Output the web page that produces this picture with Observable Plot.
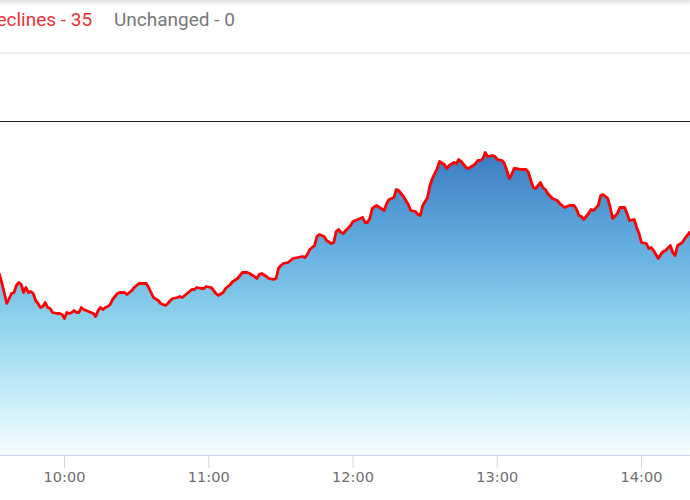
<!DOCTYPE html>
<html>
<head>
<meta charset="utf-8">
<script src="https://cdn.jsdelivr.net/npm/d3@7"></script>
<script src="https://cdn.jsdelivr.net/npm/@observablehq/plot@0.6"></script>
<style>
  html, body { margin: 0; padding: 0; background: #fff; width: 690px; height: 500px; overflow: hidden; }
  #header { position: relative; height: 52px; border-bottom: 2px solid #ececec; background: linear-gradient(#e4e4e4 0px, #ffffff 6px); overflow: hidden; font-family: Roboto, sans-serif; font-size: 19px; }
  #header span { position: absolute; top: 8px; white-space: nowrap; }
  #dec { color: #e53238; left: -16px; }
  #unc { color: #777777; left: 114px; }
  #chart svg { display: block; }
</style>
</head>
<body>
<div id="header"><span id="dec"></span><span id="unc"></span></div>
<div id="chart"></div>
<script>
const headerLabels = ["Declines - 35", "Unchanged - 0"];
const prevClose = 22100;
const tickLabels = ["10:00", "11:00", "12:00", "13:00", "14:00"];
const times = [
"09:33","09:34","09:36","09:37","09:38","09:39","09:40","09:41","09:42","09:43","09:44","09:45","09:46","09:47","09:48","09:49","09:50","09:51","09:52","09:53","09:54","09:55","09:57","09:58","09:59",
"10:00","10:01","10:02","10:03","10:04","10:05","10:06","10:07","10:08","10:09","10:10","10:12","10:13","10:14","10:15","10:16","10:17","10:18","10:19","10:20","10:22","10:23","10:25","10:26","10:28","10:29","10:31","10:32","10:34","10:35","10:36","10:37","10:39","10:40","10:42","10:43","10:44","10:45","10:47","10:48","10:49","10:50","10:52","10:53","10:54","10:55","10:57","10:58","10:59",
"11:01","11:02","11:03","11:04","11:06","11:07","11:09","11:10","11:12","11:13","11:14","11:16","11:17","11:19","11:20","11:21","11:22","11:24","11:25","11:27","11:28","11:29","11:30","11:31","11:33","11:34","11:35","11:37","11:39","11:40","11:41","11:42","11:44","11:45","11:46","11:48","11:49","11:51","11:52","11:53","11:54","11:55","11:56","11:57","11:59",
"12:00","12:02","12:03","12:04","12:05","12:06","12:07","12:08","12:09","12:10","12:11","12:13","12:14","12:15","12:17","12:18","12:19","12:21","12:23","12:24","12:26","12:27","12:28","12:29","12:31","12:32","12:33","12:35","12:36","12:38","12:39","12:40","12:42","12:43","12:44","12:45","12:47","12:48","12:50","12:51","12:52","12:53","12:54","12:55","12:56","12:58","12:59",
"13:00","13:02","13:03","13:04","13:05","13:06","13:07","13:08","13:10","13:12","13:13","13:14","13:15","13:16","13:18","13:19","13:20","13:21","13:23","13:25","13:26","13:28","13:30","13:32","13:33","13:34","13:35","13:36","13:38","13:39","13:40","13:42","13:43","13:44","13:46","13:47","13:48","13:50","13:51","13:53","13:54","13:55","13:57","13:58","13:59",
"14:00","14:02","14:03","14:04","14:05","14:07","14:08","14:09","14:10","14:12","14:13","14:14","14:15","14:17","14:18","14:20","14:21"
];
const values = [
21947,21938,21918,21923,21928,21929,21936,21939,21937,21929,21934,21929,21930,21928,21921,21918,21914,21915,21919,21914,21913,21909,21908,21908,21907,
21903,21909,21908,21909,21911,21909,21909,21914,21912,21911,21910,21908,21905,21911,21914,21912,21914,21915,21917,21922,21928,21929,21929,21927,21931,21934,21938,21938,21938,21934,21929,21924,21921,21918,21916,21918,21921,21923,21924,21925,21924,21926,21930,21932,21932,21934,21933,21933,21935,
21934,21931,21928,21926,21929,21933,21937,21940,21943,21946,21949,21949,21948,21945,21943,21947,21948,21945,21943,21942,21943,21953,21956,21958,21959,21961,21963,21964,21965,21964,21967,21972,21976,21985,21987,21985,21981,21978,21979,21990,21992,21989,21988,21991,21996,
22000,22002,22003,22004,21999,21999,22003,22013,22015,22016,22014,22011,22018,22022,22024,22032,22031,22025,22017,22011,22010,22007,22006,22016,22024,22036,22043,22053,22060,22057,22053,22056,22059,22058,22062,22060,22054,22053,22056,22058,22061,22061,22063,22069,22065,22066,22065,
22062,22061,22058,22051,22043,22047,22053,22053,22052,22052,22049,22041,22034,22033,22039,22034,22032,22028,22023,22021,22018,22014,22016,22016,22012,22006,22005,22002,22008,22012,22011,22016,22026,22027,22023,22014,22003,22008,22014,22014,22008,22001,22002,21994,21988,
21979,21978,21973,21974,21971,21963,21967,21970,21971,21976,21969,21966,21976,21979,21983,21989,21986
];

document.getElementById("dec").textContent = headerLabels[0];
document.getElementById("unc").textContent = headerLabels[1];

const toDate = (s) => { const [h, m, sec] = s.split(":").map(Number); return new Date(Date.UTC(2024, 0, 2, h, m, sec || 0)); };
const data = times.map((t, i) => ({ t: toDate(t), v: values[i] }));
const yMin = 21766, yMax = 22167;

const chart = Plot.plot({
  width: 690,
  height: 446,
  marginLeft: 0,
  marginRight: 0,
  marginTop: 0,
  marginBottom: 45,
  style: { background: "transparent", fontFamily: "'DejaVu Sans', sans-serif", fontSize: "14.5px", color: "#6e6e6e" },
  x: { type: "utc", domain: [toDate("09:33:23"), toDate("14:20:23")], ticks: tickLabels.map(toDate), tickFormat: d3.utcFormat("%H:%M"), tickSize: 13, tickPadding: 3, label: null },
  y: { domain: [yMin, yMax], axis: null },
  marks: [
    Plot.areaY(data, { x: "t", y1: yMin, y2: "v", fill: "url(#areaGrad)", clip: true, curve: "linear" }),
    Plot.ruleY([yMin], { stroke: "#ccd6eb", strokeWidth: 1 }),
    Plot.ruleY([prevClose], { stroke: "#222222", strokeWidth: 1 }),
    Plot.lineY(data, { x: "t", y: "v", stroke: "#ff0000", strokeWidth: 2.8, strokeLinejoin: "round", clip: true })
  ]
});

const svg = d3.select(chart);
const defs = svg.insert("defs", ":first-child");
const grad = defs.append("linearGradient").attr("id", "areaGrad").attr("x1", 0).attr("y1", 0).attr("x2", 0).attr("y2", 1);
[[0, "#3a7cbf"], [0.3, "#62ace0"], [0.55, "#8dd2ec"], [0.8, "#c4ecf8"], [1, "#f6fdff"]].forEach(([o, c]) => grad.append("stop").attr("offset", o).attr("stop-color", c));
svg.selectAll("[aria-label='x-axis tick'] path, [aria-label='x-axis tick'] line").attr("stroke", "#ccd6eb");
svg.selectAll("[aria-label='x-axis tick']").attr("stroke", "#ccd6eb");
svg.selectAll("[aria-label='x-axis tick label']").attr("fill", "#6e6e6e");
document.getElementById("chart").appendChild(chart);
</script>
</body>
</html>
